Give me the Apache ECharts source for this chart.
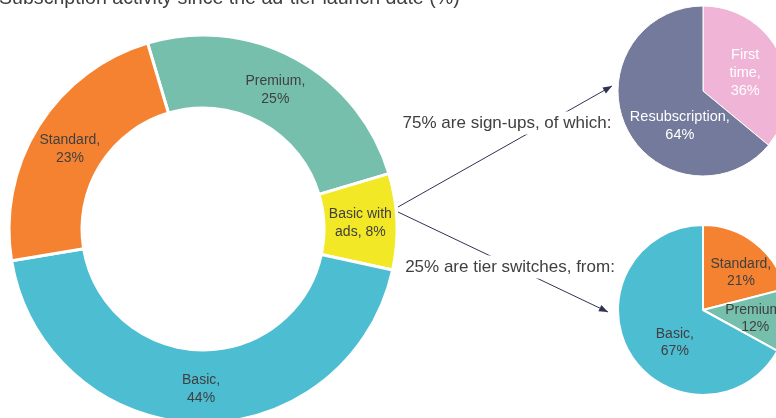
<!DOCTYPE html>
<html><head><meta charset="utf-8">
<script src="https://cdn.jsdelivr.net/npm/echarts@6/dist/echarts.min.js"></script>
<style>html,body{margin:0;padding:0;background:#fff}#c{width:776px;height:418px}</style>
</head><body><div id="c"></div>
<script>
var titleText = 'Subscription activity since the ad-tier launch date (%)';
var mainCats = ['Premium', 'Basic with ads', 'Basic', 'Standard'];
var mainLabels = ['Premium,\n25%', 'Basic with\nads, 8%', 'Basic,\n44%', 'Standard,\n23%'];
var mainVals = [25, 8, 44, 23];
var signCats = ['First time', 'Resubscription'];
var signLabels = ['First\ntime,\n36%', 'Resubscription,\n64%'];
var signVals = [36, 64];
var switchCats = ['Standard', 'Premium', 'Basic'];
var switchLabels = ['Standard,\n21%', 'Premium,\n12%', 'Basic,\n67%'];
var switchVals = [21, 12, 67];
var signText = '75% are sign-ups, of which:';
var switchText = '25% are tier switches, from:';

var colors = {
  'Premium': '#76bfac', 'Basic with ads': '#f2e826', 'Basic': '#4dbdd1', 'Standard': '#f58231',
  'First time': '#f0b4d6', 'Resubscription': '#737a9c'
};
var txt = '#404040';
var ff = 'Liberation Sans, Arial, sans-serif';

function mk(cats, vals, labels, lblColor, offsets) {
  return cats.map(function (c, i) {
    return {
      name: c, value: vals[i],
      itemStyle: { color: colors[c] },
      label: { formatter: labels[i], color: lblColor[i], offset: offsets[i] }
    };
  });
}

var chart = echarts.init(document.getElementById('c'));

function arrowHead(x1, y1, x2, y2) {
  var a = Math.atan2(y2 - y1, x2 - x1), L = 9, W = 3.5;
  var bx = x2 - L * Math.cos(a), by = y2 - L * Math.sin(a);
  return [[x2, y2], [bx + W * Math.sin(a), by - W * Math.cos(a)], [bx - W * Math.sin(a), by + W * Math.cos(a)]];
}
var lineC = '#2e3352';
var a1 = [398, 207, 612, 86], a2 = [398, 212, 608, 312];

chart.setOption({
  animation: false,
  title: { text: titleText, left: -1, top: -11, padding: 0, textStyle: { fontFamily: ff, fontSize: 19.6, fontWeight: 'normal', color: txt } },
  graphic: [
    { type: 'line', shape: { x1: a1[0], y1: a1[1], x2: a1[2], y2: a1[3] }, style: { stroke: lineC, lineWidth: 1 }, z: 1 },
    { type: 'polygon', shape: { points: arrowHead(a1[0], a1[1], a1[2], a1[3]) }, style: { fill: lineC }, z: 1 },
    { type: 'line', shape: { x1: a2[0], y1: a2[1], x2: a2[2], y2: a2[3] }, style: { stroke: lineC, lineWidth: 1 }, z: 1 },
    { type: 'polygon', shape: { points: arrowHead(a2[0], a2[1], a2[2], a2[3]) }, style: { fill: lineC }, z: 1 },
    { type: 'text', x: 507, y: 123, z: 5, style: { text: signText, align: 'center', verticalAlign: 'middle', fontFamily: ff, fontSize: 17, fill: txt, backgroundColor: '#fff', padding: [3, 3] } },
    { type: 'text', x: 510, y: 267, z: 5, style: { text: switchText, align: 'center', verticalAlign: 'middle', fontFamily: ff, fontSize: 17, fill: txt, backgroundColor: '#fff', padding: [3, 3] } }
  ],
  series: [
    {
      type: 'pie', center: [203, 229], radius: [121, 194], startAngle: 106.6, clockwise: true,
      label: { position: 'inside', fontFamily: ff, fontSize: 14, lineHeight: 18, color: txt },
      labelLine: { show: false },
      itemStyle: { borderColor: '#fff', borderWidth: 3 },
      emphasis: { disabled: true },
      data: mk(mainCats, mainVals, mainLabels, [txt, txt, txt, txt], [[-4, 2], [-3, 0], [2, 0], [3, 5]])
    },
    {
      type: 'pie', center: [703, 91], radius: [0, 85], startAngle: 90, clockwise: true,
      label: { position: 'inside', fontFamily: ff, fontSize: 14.5, lineHeight: 18 },
      labelLine: { show: false },
      itemStyle: { borderColor: '#fff', borderWidth: 1 },
      emphasis: { disabled: true },
      data: mk(signCats, signVals, signLabels, ['#fff', '#fff'], [[1, 1], [18, 16]])
    },
    {
      type: 'pie', center: [703, 310], radius: [0, 85], startAngle: 90, clockwise: true,
      label: { position: 'inside', fontFamily: ff, fontSize: 14, lineHeight: 17 },
      labelLine: { show: false },
      itemStyle: { borderColor: '#fff', borderWidth: 2 },
      emphasis: { disabled: true },
      data: mk(switchCats, switchVals, switchLabels, [txt, txt, txt], [[10, -1], [7, 3], [11, 9]])
    }
  ]
});
</script></body></html>
